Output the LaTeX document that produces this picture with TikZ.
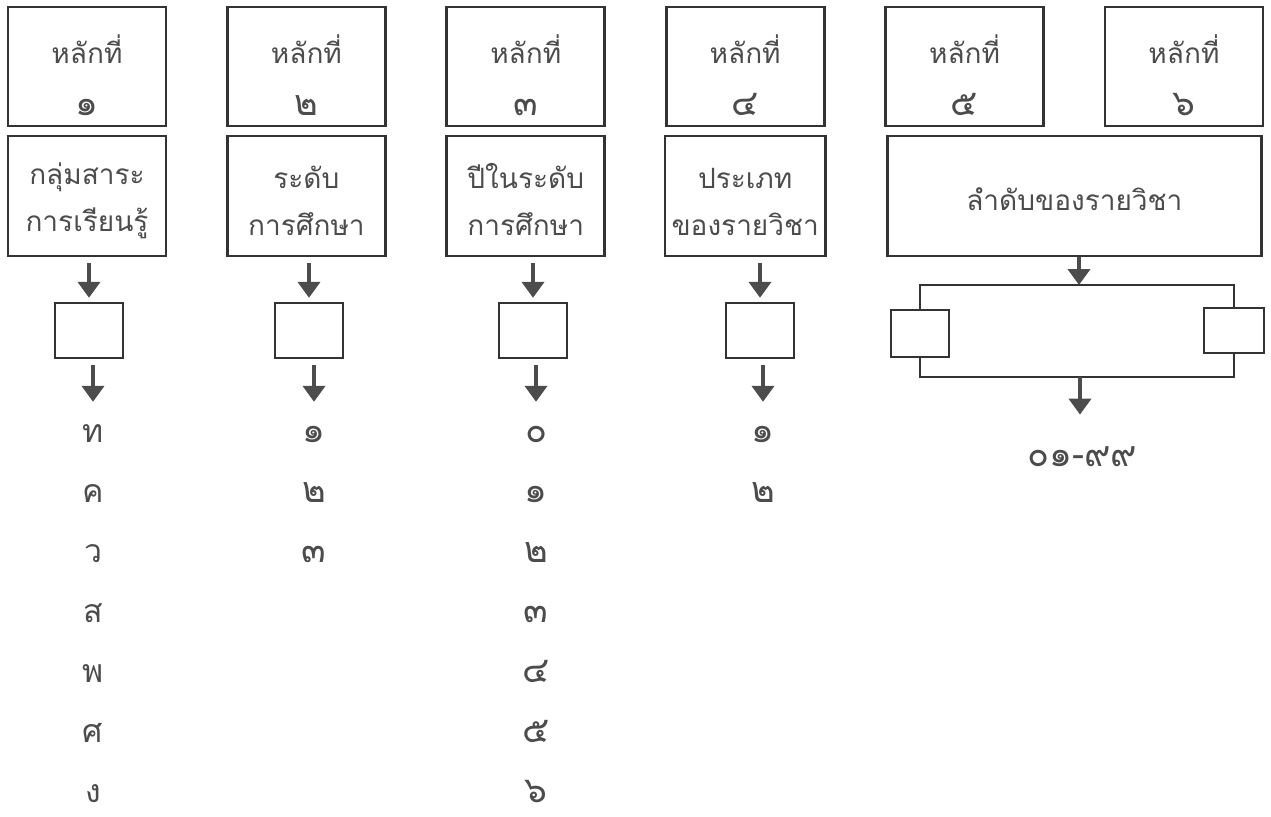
\documentclass[tikz,border=0pt]{standalone}
\usepackage{fontspec}
\newfontfamily\thaifont[Script=Thai]{Loma}
\usetikzlibrary{arrows.meta,positioning,calc}
\definecolor{ink}{rgb}{0.2,0.2,0.2}
\definecolor{shaft}{rgb}{0.3,0.3,0.3}
\definecolor{lettering}{rgb}{0.3,0.3,0.3}
\newcommand{\toppad}[1]{\rule{0pt}{#1}}
\newcommand{\bignum}[1]{{\fontsize{18}{26}\selectfont #1}}

\begin{document}
\begin{tikzpicture}
    [x=0.5pt, y=-0.5pt,
    node distance=64.75pt and 109.7pt,
    on grid,
    digit/.style = {shape=rectangle, draw=ink, line width=1.4pt, align=center, text=lettering,
      minimum width=79pt, minimum height=59.5pt, font=\thaifont\fontsize{14}{26}\selectfont},
    meaning/.style = {digit, minimum height=60pt, font=\thaifont\fontsize{14}{23.5}\selectfont},
    slot/.style = {shape=rectangle, draw=ink, line width=1.2pt, minimum width=34pt, minimum height=27.5pt},
    entry/.style = {text=lettering, inner sep=0pt, text height=8pt, text depth=0pt,
      font=\thaifont\fontsize{16}{18}\selectfont},
    number/.style = {entry, font=\thaifont\fontsize{18}{20}\selectfont},
    post/.style = {-{Triangle[width=11pt,length=8pt]}, draw=shaft, line width=2pt, shorten <=3pt, shorten >=2pt},
    joint/.style = {draw=ink, line width=1.2pt}]

    \fill [white] (0,0) rectangle (1271,816);
    \useasboundingbox (0,0) rectangle (1271,816);

    \node [digit] (h1) at (87,66.5) {\toppad{23pt}หลักที่\\\bignum{๑}};
    \node [digit] (h2) [right=of h1] {\toppad{23pt}หลักที่\\\bignum{๒}};
    \node [digit] (h3) [right=of h2] {\toppad{23pt}หลักที่\\\bignum{๓}};
    \node [digit] (h4) [right=of h3] {\toppad{23pt}หลักที่\\\bignum{๔}};
    \node [digit] (h5) [right=of h4] {\toppad{23pt}หลักที่\\\bignum{๕}};
    \node [digit] (h6) [right=of h5] {\toppad{23pt}หลักที่\\\bignum{๖}};

    \node [meaning] (g1) [below=of h1] {\toppad{16pt}กลุ่มสาระ\\การเรียนรู้};
    \node [meaning] (g2) [below=of h2] {\toppad{16pt}ระดับ\\การศึกษา};
    \node [meaning] (g3) [below=of h3] {\toppad{16pt}ปีในระดับ\\การศึกษา};
    \node [meaning] (g4) [below=of h4] {\toppad{16pt}ประเภท\\ของรายวิชา};
    \coordinate (mid56) at ($(h5)!0.5!(h6)$);
    \node [meaning, minimum width=187pt] (g56) at (mid56 |- g1) {\toppad{15pt}ลำดับของรายวิชา};

    \node [slot] (s1) [below=67.25pt of g1, xshift=1pt] {};
    \node [slot] (s2) [below=67.25pt of g2, xshift=1.3pt] {};
    \node [slot] (s3) [below=67.25pt of g3, xshift=3.6pt] {};
    \node [slot] (s4) [below=67.25pt of g4, xshift=7.4pt] {};

    \draw [post] (g1.south -| s1.north) -- (s1.north);
    \draw [post] (g2.south -| s2.north) -- (s2.north);
    \draw [post] (g3.south -| s3.north) -- (s3.north);
    \draw [post] (g4.south -| s4.north) -- (s4.north);

    \foreach \t [count=\i] in {ท,ค,ว,ส,พ,ศ,ง}
      \node [entry] (a\i) at ($(s1.south)+(4,75+60*\i-60)$) {\t};
    \foreach \t [count=\i] in {๑,๒,๓}
      \node [number] (b\i) at ($(s2.south)+(5,75+60*\i-60)$) {\t};
    \foreach \t [count=\i] in {๐,๑,๒,๓,๔,๕,๖}
      \node [number] (c\i) at ($(s3.south)+(3,75+60*\i-60)$) {\t};
    \foreach \t [count=\i] in {๑,๒}
      \node [number] (d\i) at ($(s4.south)+(3,75+60*\i-60)$) {\t};

    \draw [post, shorten >=12pt] (s1.south -| a1) -- (a1.north);
    \draw [post, shorten >=12pt] (s2.south -| b1) -- (b1.north);
    \draw [post, shorten >=12pt] (s3.south -| c1) -- (c1.north);
    \draw [post, shorten >=12pt] (s4.south -| d1) -- (d1.north);

    % last two digits
    \node [slot, minimum width=29pt, minimum height=23.5pt] (left) at (920,333.5) {};
    \node [slot, minimum width=30pt, minimum height=22.5pt] (right) at (1234,330.5) {};
    \coordinate (split) at (1079,285);
    \coordinate (merge) at (1080,377);
    \draw [joint] (left.north) |- (split) -| (right.north);
    \draw [joint] (left.south) |- (merge) -| (right.south);
    \draw [post, shorten <=0pt, shorten >=0pt] (split |- g56.south) -- (split);
    \node [number] (range) at (1082,458) {๐๑-๙๙};
    \draw [post, shorten <=0pt, shorten >=17.5pt] (merge) -- (merge |- range.north);
\end{tikzpicture}
\end{document}
